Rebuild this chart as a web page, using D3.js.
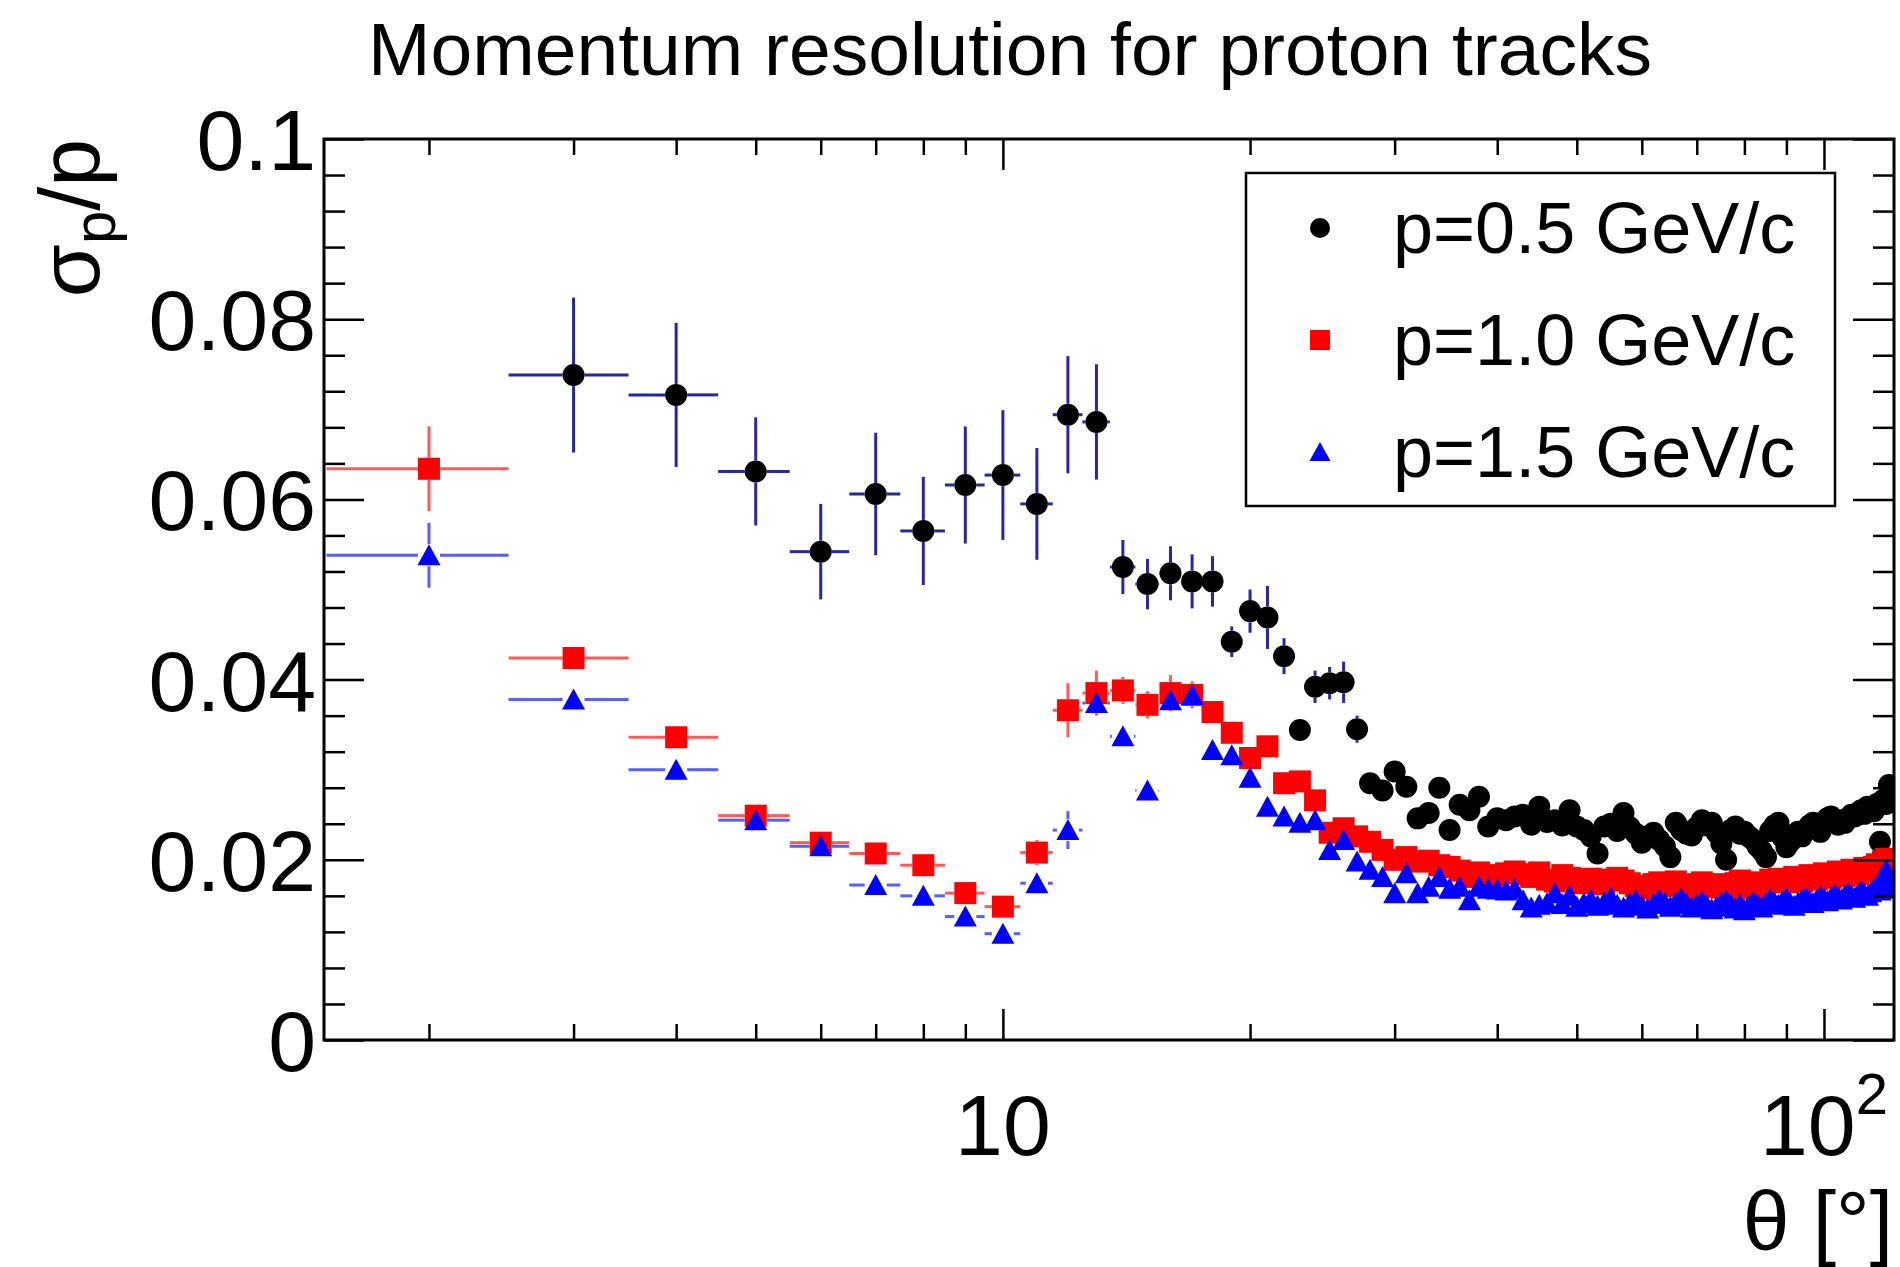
<!DOCTYPE html>
<html><head><meta charset="utf-8">
<script src="https://cdn.jsdelivr.net/npm/d3@7"></script>
<style>
body{margin:0;background:#fff}
text{font-family:"Liberation Sans",Arial,Helvetica,sans-serif;fill:#000}
</style>
</head><body>
<svg id="c" width="1900" height="1267"></svg>
<script>
// ---------------- data ----------------
const thetaBins = [2,3,4,5,6,7,8,9,10,11,12,13,14,15,16,17,18,19,20,21,22,23,24,25,26,27,28,29,30,
  31,32,33,34,35,36,37,38,39,40,41,42,43,44,45,46,47,48,49,50,51,52,53,54,55,56,57,58,59,60,
  61,62,63,64,65,66,67,68,69,70,71,72,73,74,75,76,77,78,79,80,81,82,83,84,85,86,87,88,89,90,
  91,92,93,94,95,96,97,98,99,100,101,102,103,104,105,106,107,108,109,110,111,112,113,114,115,116,117,118,119,120,121];
const binHalfWidth = 0.5;

// p = 0.5 GeV/c (starts at theta = 3)
const valP05 = [0.0738,0.0716,0.0631,0.0542,0.0606,0.0565,0.0616,0.0627,0.0595,0.0694,0.0686,
  0.0525,0.0506,0.0518,0.0509,0.0509,0.0442,0.0476,0.0469,0.0426,0.0344,0.0392,0.0396,0.0397,0.0345,
  0.0285,0.0277,0.0298,0.0281,0.0246,0.0252,0.0280,0.0233,0.0261,0.0255,0.0270,0.0237,0.0246,0.0244,
  0.0248,0.0250,0.0239,0.0259,0.0242,0.0244,0.0238,0.0255,0.0237,0.0233,0.0226,0.0207,0.0237,0.0240,
  0.0232,0.0252,0.0236,0.0229,0.0219,0.0226,0.0230,0.0222,0.0215,0.0203,0.0241,0.0233,0.0229,0.0227,
  0.0236,0.0244,0.0238,0.0241,0.0230,0.0218,0.0200,0.0233,0.0237,0.0229,0.0231,0.0226,0.0222,0.0215,
  0.0210,0.0203,0.0232,0.0238,0.0241,0.0225,0.0214,0.0220,0.0228,0.0231,0.0226,0.0233,0.0238,0.0241,
  0.0236,0.0231,0.0240,0.0246,0.0248,0.0243,0.0239,0.0244,0.0241,0.0246,0.0250,0.0248,0.0252,0.0255,
  0.0251,0.0259,0.0256,0.0254,0.0262,0.0220,0.0266,0.0262,0.0283,0.0275];
const errP05 = [0.0086,0.0080,0.0060,0.0053,0.0068,0.0060,0.0065,0.0072,0.0062,0.0065,0.0064,
  0.0030,0.0028,0.0030,0.0030,0.0028,0.0017,0.0024,0.0035,0.0020,0.0012,0.0018,0.0018,0.0023,0.0015];

// p = 1.0 GeV/c
const valP10 = [0.0634,0.0424,0.0336,0.0249,0.0219,0.0207,0.0194,0.0163,0.0148,0.0208,0.0366,0.0385,
  0.0388,0.0372,0.0385,0.0383,0.0364,0.0341,0.0313,0.0326,0.0285,0.0287,0.0266,0.0230,0.0235,0.0226,
  0.0220,0.0211,0.0200,0.0203,0.0198,0.0199,0.0194,0.0192,0.0188,0.0181,0.0186,0.0180,0.0183,0.0185,
  0.0187,0.0184,0.0181,0.0186,0.0178,0.0176,0.0183,0.0180,0.0177,0.0174,0.0179,0.0176,0.0173,0.0178,
  0.0180,0.0177,0.0174,0.0171,0.0168,0.0170,0.0173,0.0175,0.0174,0.0171,0.0176,0.0173,0.0170,0.0168,
  0.0171,0.0175,0.0172,0.0170,0.0173,0.0169,0.0167,0.0171,0.0174,0.0177,0.0175,0.0172,0.0168,0.0166,
  0.0170,0.0175,0.0178,0.0176,0.0179,0.0177,0.0175,0.0178,0.0181,0.0179,0.0176,0.0180,0.0183,0.0181,
  0.0178,0.0182,0.0185,0.0183,0.0180,0.0184,0.0187,0.0185,0.0182,0.0186,0.0189,0.0186,0.0184,0.0188,
  0.0191,0.0189,0.0187,0.0192,0.0195,0.0193,0.0198,0.0201,0.0196,0.0190];
const errP10 = [0.0047,0.0012,0.0006,0.0005,0.0005,0.0005,0.0005,0.0005,0.0004,0.0014,0.0030,0.0025,
  0.0015,0.0015,0.0020,0.0015,0.0010,0.0008,0.0008,0.0008];

// p = 1.5 GeV/c
const valP15 = [0.0538,0.0378,0.0300,0.0244,0.0215,0.0172,0.0160,0.0137,0.0118,0.0174,0.0233,0.0374,
  0.0337,0.0277,0.0377,0.0383,0.0322,0.0316,0.0291,0.0259,0.0248,0.0241,0.0244,0.0211,0.0222,0.0198,
  0.0189,0.0181,0.0163,0.0185,0.0163,0.0170,0.0181,0.0168,0.0170,0.0155,0.0170,0.0168,0.0167,0.0166,
  0.0168,0.0155,0.0147,0.0150,0.0152,0.0163,0.0151,0.0160,0.0148,0.0152,0.0156,0.0149,0.0153,0.0158,
  0.0150,0.0147,0.0152,0.0155,0.0149,0.0146,0.0151,0.0156,0.0152,0.0148,0.0153,0.0157,0.0151,0.0147,
  0.0150,0.0154,0.0149,0.0145,0.0148,0.0152,0.0155,0.0150,0.0146,0.0151,0.0144,0.0149,0.0153,0.0150,
  0.0147,0.0152,0.0156,0.0153,0.0150,0.0154,0.0157,0.0152,0.0149,0.0153,0.0156,0.0158,0.0155,0.0152,
  0.0156,0.0159,0.0157,0.0154,0.0158,0.0161,0.0159,0.0156,0.0160,0.0163,0.0160,0.0158,0.0162,0.0165,
  0.0162,0.0160,0.0164,0.0167,0.0170,0.0166,0.0172,0.0189,0.0175,0.0168];
const errP15 = [0.0036,0.0010,0.0004,0.0004,0.0004,0.0004,0.0004,0.0004,0.0004,0.0006,0.0021,0.0012,
  0.0008,0.0006,0.0008,0.0010];
const errDense = [0.0008,0.0004,0.0004];

const seriesNames = ["p=0.5 GeV/c","p=1.0 GeV/c","p=1.5 GeV/c"];
const yTicksMajor = [0,0.02,0.04,0.06,0.08,0.1];
const xTicksMajor = [10,100];
const xTicksMinor = [2,3,4,5,6,7,8,9,20,30,40,50,60,70,80,90];
const yTicksMinor = [0.004,0.008,0.012,0.016,0.024,0.028,0.032,0.036,0.044,0.048,0.052,0.056,0.064,0.068,0.072,0.076,0.084,0.088,0.092,0.096];

// ---------------- layout ----------------
const L = 324, R = 1894, T = 139, B = 1040;
const svg = d3.select("#c");
const x = d3.scaleLog().domain([1.49, 121.7]).range([L, R]);
const y = d3.scaleLinear().domain([0, 0.1]).range([B, T]);

function build(vals, errs, offset, dense) {
  return vals.map((v, i) => ({t: thetaBins[i + offset], v: v, e: i < errs.length ? errs[i] : dense}));
}
const series = [
  {name: seriesNames[0], data: build(valP05, errP05, 1, errDense[0]), fill: "#000000", err: "#2626a4", shape: "circle"},
  {name: seriesNames[1], data: build(valP10, errP10, 0, errDense[1]), fill: "#ff0000", err: "#ff5a5a", shape: "square"},
  {name: seriesNames[2], data: build(valP15, errP15, 0, errDense[2]), fill: "#0000ff", err: "#5560ff", shape: "triangle"}
];

function markerPath(shape, s) {
  if (shape === "circle") return d3.symbol(d3.symbolCircle, Math.PI * (s/2) * (s/2))();
  if (shape === "square") return d3.symbol(d3.symbolSquare, s * s)();
  const h = s / 2;
  return `M0,${-h} L${h + 0.5},${h - 1} L${-h - 0.5},${h - 1} Z`;
}

svg.append("defs").append("clipPath").attr("id", "clip")
  .append("rect").attr("x", L).attr("y", T).attr("width", R - L).attr("height", B - T);

const plot = svg.append("g").attr("clip-path", "url(#clip)");
const M = 22, gap = 11;

series.forEach(s => {
  const g = plot.append("g");
  const segs = [];
  s.data.forEach(d => {
    const cx = x(d.t), cy = y(d.v);
    const xl = x(d.t - binHalfWidth), xr = x(d.t + binHalfWidth);
    const yt = y(d.v + d.e), yb = y(d.v - d.e);
    if (cx - gap > xl) segs.push([xl, cy, cx - gap, cy]);
    if (xr > cx + gap) segs.push([cx + gap, cy, xr, cy]);
    if (cy - gap > yt) segs.push([cx, yt, cx, cy - gap]);
    if (yb > cy + gap) segs.push([cx, cy + gap, cx, yb]);
  });
  g.selectAll("line").data(segs).join("line")
    .attr("x1", d => d[0]).attr("y1", d => d[1]).attr("x2", d => d[2]).attr("y2", d => d[3])
    .attr("stroke", s.err).attr("stroke-width", 3);
  g.selectAll("path").data(s.data).join("path")
    .attr("d", markerPath(s.shape, M))
    .attr("transform", d => `translate(${x(d.t)},${y(d.v)})`)
    .attr("fill", s.fill);
});

// ---------------- axes / frame ----------------
function styleAxis(g, w) {
  g.select(".domain").remove();
  g.selectAll(".tick line").attr("stroke", "#000").attr("stroke-width", w);
  g.selectAll(".tick text").remove();
}
svg.append("g").attr("transform", `translate(0,${B})`)
  .call(d3.axisBottom(x).tickValues(xTicksMajor).tickSize(-31).tickFormat("")).call(g => styleAxis(g, 2.5));
svg.append("g").attr("transform", `translate(0,${B})`)
  .call(d3.axisBottom(x).tickValues(xTicksMinor).tickSize(-16).tickFormat("")).call(g => styleAxis(g, 2.5));
svg.append("g").attr("transform", `translate(0,${T})`)
  .call(d3.axisTop(x).tickValues(xTicksMajor).tickSize(-31).tickFormat("")).call(g => styleAxis(g, 2.5));
svg.append("g").attr("transform", `translate(0,${T})`)
  .call(d3.axisTop(x).tickValues(xTicksMinor).tickSize(-16).tickFormat("")).call(g => styleAxis(g, 2.5));
svg.append("g").attr("transform", `translate(${L},0)`)
  .call(d3.axisLeft(y).tickValues(yTicksMajor).tickSize(-40).tickFormat("")).call(g => styleAxis(g, 2.5));
svg.append("g").attr("transform", `translate(${L},0)`)
  .call(d3.axisLeft(y).tickValues(yTicksMinor).tickSize(-21).tickFormat("")).call(g => styleAxis(g, 2.5));
svg.append("g").attr("transform", `translate(${R},0)`)
  .call(d3.axisRight(y).tickValues(yTicksMajor).tickSize(-41).tickFormat("")).call(g => styleAxis(g, 2.5));
svg.append("g").attr("transform", `translate(${R},0)`)
  .call(d3.axisRight(y).tickValues(yTicksMinor).tickSize(-21).tickFormat("")).call(g => styleAxis(g, 2.5));

svg.append("rect").attr("x", L).attr("y", T).attr("width", R - L).attr("height", B - T)
  .attr("fill", "none").attr("stroke", "#000").attr("stroke-width", 3);

// y tick labels
svg.append("g").selectAll("text").data(yTicksMajor).join("text")
  .attr("x", 316).attr("y", d => y(d)).attr("dy", "0.36em")
  .attr("text-anchor", "end").attr("font-size", 86)
  .text(d => d === 0 ? "0" : d3.format("~g")(d));

// x tick labels
svg.append("text").attr("x", x(10)).attr("y", 1155).attr("text-anchor", "middle")
  .attr("font-size", 86).text("10");
const hundred = svg.append("text").attr("x", x(100) - 64).attr("y", 1155)
  .attr("text-anchor", "start").attr("font-size", 86);
hundred.append("tspan").text("10");
hundred.append("tspan").attr("font-size", 58).attr("dy", -41).text("2");

// axis titles
svg.append("text").attr("x", 1893).attr("y", 1250).attr("text-anchor", "end")
  .attr("font-size", 84).text("θ [°]");
const yt = svg.append("text").attr("transform", `translate(99,${T}) rotate(-90)`)
  .attr("text-anchor", "end").attr("font-size", 86);
yt.append("tspan").text("σ");
yt.append("tspan").attr("font-size", 60).attr("dy", 16).text("p");
yt.append("tspan").attr("dy", -16).text("/p");

// title
svg.append("text").attr("x", 1010).attr("y", 75).attr("text-anchor", "middle")
  .attr("font-size", 75).text("Momentum resolution for proton tracks");

// legend
const lg = svg.append("g");
lg.append("rect").attr("x", 1246).attr("y", 173).attr("width", 589).attr("height", 333)
  .attr("fill", "#fff").attr("stroke", "#000").attr("stroke-width", 2.5);
const rowY = [228, 340, 452];
series.forEach((s, i) => {
  lg.append("path").attr("d", markerPath(s.shape, 20))
    .attr("transform", `translate(1320,${rowY[i]})`).attr("fill", s.fill);
  lg.append("text").attr("x", 1393).attr("y", rowY[i] + 25).attr("font-size", 72).text(s.name);
});
</script>
</body></html>
